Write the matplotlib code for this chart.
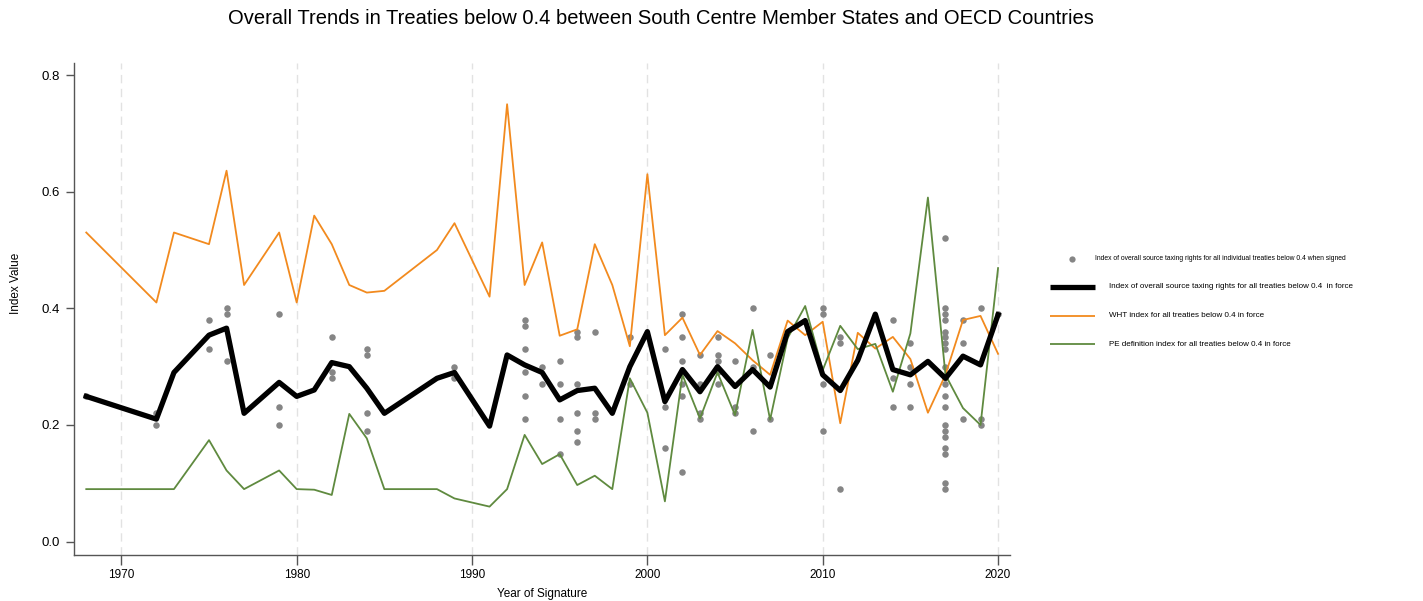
import numpy as np
import matplotlib.pyplot as plt
from matplotlib.lines import Line2D

plt.rcParams['font.family'] = ['Liberation Sans', 'DejaVu Sans']

# Yearly index values for treaties in force
years = [1968, 1972, 1973, 1975, 1976, 1977, 1979, 1980, 1981, 1982, 1983, 1984, 1985,
         1988, 1989, 1991, 1992, 1993, 1994, 1995, 1996, 1997, 1998, 1999, 2000,
         2001, 2002, 2003, 2004, 2005, 2006, 2007, 2008, 2009, 2010, 2011, 2012,
         2013, 2014, 2015, 2016, 2017, 2018, 2019, 2020]
overall = [0.249, 0.210, 0.290, 0.354, 0.366, 0.220, 0.273, 0.249, 0.260, 0.307, 0.300, 0.263, 0.220,
           0.280, 0.290, 0.198, 0.320, 0.303, 0.290, 0.243, 0.259, 0.263, 0.220, 0.300, 0.360,
           0.240, 0.295, 0.257, 0.300, 0.266, 0.295, 0.265, 0.360, 0.379, 0.286, 0.259, 0.311,
           0.390, 0.295, 0.286, 0.309, 0.280, 0.318, 0.303, 0.389]
wht = [0.530, 0.410, 0.530, 0.510, 0.636, 0.440, 0.530, 0.410, 0.559, 0.510, 0.440, 0.427, 0.430,
       0.500, 0.546, 0.420, 0.750, 0.440, 0.513, 0.353, 0.364, 0.510, 0.440, 0.335, 0.630,
       0.354, 0.384, 0.320, 0.361, 0.340, 0.311, 0.286, 0.379, 0.354, 0.377, 0.203, 0.358,
       0.331, 0.351, 0.313, 0.221, 0.286, 0.380, 0.387, 0.322]
pe_def = [0.090, 0.090, 0.090, 0.174, 0.122, 0.090, 0.122, 0.090, 0.089, 0.080, 0.219, 0.177, 0.090,
          0.090, 0.074, 0.060, 0.090, 0.183, 0.133, 0.150, 0.097, 0.113, 0.090, 0.280, 0.221,
          0.069, 0.286, 0.211, 0.290, 0.217, 0.363, 0.209, 0.349, 0.404, 0.294, 0.370, 0.330,
          0.339, 0.257, 0.357, 0.590, 0.286, 0.229, 0.200, 0.469]

# Individual treaties (year signed, index when signed)
treaty_years = ([1968] + [1972] * 2 + [1975] * 2 + [1976] * 3 + [1979] * 3 + [1982] * 3 + [1984] * 4
                + [1989] * 2 + [1993] * 6 + [1994] * 2 + [1995] * 4 + [1996] * 6 + [1997] * 3
                + [1999] * 2 + [2001] * 3 + [2002] * 6 + [2003] * 4 + [2004] * 5 + [2005] * 3
                + [2006] * 3 + [2007] * 2 + [2010] * 4 + [2011] * 3 + [2014] * 3 + [2015] * 4
                + [2017] * 20 + [2018] * 3 + [2019] * 3 + [2020])
treaty_index = ([0.25, 0.22, 0.20, 0.38, 0.33, 0.40, 0.39, 0.31, 0.39, 0.23, 0.20,
                 0.35, 0.29, 0.28, 0.33, 0.32, 0.22, 0.19, 0.30, 0.28,
                 0.38, 0.37, 0.33, 0.29, 0.25, 0.21, 0.30, 0.27,
                 0.31, 0.27, 0.21, 0.15, 0.36, 0.35, 0.27, 0.22, 0.19, 0.17, 0.36, 0.22, 0.21,
                 0.35, 0.27, 0.33, 0.23, 0.16, 0.39, 0.35, 0.31, 0.27, 0.25, 0.12,
                 0.32, 0.27, 0.22, 0.21, 0.35, 0.32, 0.31, 0.29, 0.27, 0.31, 0.23, 0.22,
                 0.40, 0.30, 0.19, 0.32, 0.21, 0.40, 0.39, 0.27, 0.19, 0.35, 0.34, 0.09,
                 0.38, 0.28, 0.23, 0.34, 0.30, 0.27, 0.23,
                 0.52, 0.40, 0.39, 0.38, 0.36, 0.35, 0.34, 0.33, 0.30, 0.28, 0.27, 0.25, 0.23,
                 0.20, 0.19, 0.18, 0.16, 0.15, 0.10, 0.09,
                 0.38, 0.34, 0.21, 0.40, 0.21, 0.20, 0.39])

orange = '#f28a1e'
green = '#5f8a3f'
grey = '#858585'

W, H = 1423, 601
fig = plt.figure(figsize=(W / 100, H / 100), dpi=100)
ax = fig.add_axes([0.052, 0.0765, 0.658, 0.819])

ax.scatter(treaty_years, treaty_index, s=22, color=grey, linewidths=0, zorder=2)
ax.plot(years, wht, color=orange, lw=1.3, zorder=3)
ax.plot(years, pe_def, color=green, lw=1.3, zorder=3)
ax.plot(years, overall, color='black', lw=3.8, zorder=4)

ax.set_xlim(1967.3, 2020.7)
ax.set_ylim(-0.023, 0.821)
ax.set_xticks(range(1970, 2021, 10))
ax.set_yticks(np.arange(0, 0.81, 0.2))
ax.set_yticklabels([f'{v:.1f}' for v in np.arange(0, 0.81, 0.2)])
for xv in range(1970, 2021, 10):
    ax.axvline(xv, color='#e2e2e2', lw=1.0, ls=(0, (6, 4)), zorder=1)

for s in ('top', 'right'):
    ax.spines[s].set_visible(False)
for s in ('left', 'bottom'):
    ax.spines[s].set_color('#555555')
    ax.spines[s].set_linewidth(1.0)
ax.tick_params(axis='x', length=7, width=1.0, color='#555555', labelsize=8.5, pad=3)
ax.tick_params(axis='y', length=6, width=1.0, color='#555555', labelsize=9.5, pad=4)

ax.set_xlabel('Year of Signature', fontsize=8.5, labelpad=5)
fig.text(0.011, 1 - 283 / H, 'Index Value', rotation=90, fontsize=8.5,
         ha='center', va='center')
fig.text(0.4645, 0.97, 'Overall Trends in Treaties below 0.4 between South Centre Member States and OECD Countries',
         fontsize=14.5, ha='center', va='center')

# Legend drawn by hand in figure pixel positions
def fx(px):
    return px / W

def fy(py):
    return 1 - py / H

fig.add_artist(Line2D([fx(1072)], [fy(259)], marker='o', ls='none', color=grey,
                      markersize=4.5, markeredgewidth=0, transform=fig.transFigure))
fig.text(fx(1095), fy(258), 'Index of overall source taxing rights for all individual treaties below 0.4 when signed',
         fontsize=4.9, va='center', ha='left')

legend_lines = [
    ('black', 3.8, 'Index of overall source taxing rights for all treaties below 0.4  in force'),
    (orange, 1.3, 'WHT index for all treaties below 0.4 in force'),
    (green, 1.3, 'PE definition index for all treaties below 0.4 in force'),
]
for i, (c, lw, label) in enumerate(legend_lines):
    yy = 287 + i * 28.5
    fig.add_artist(Line2D([fx(1050), fx(1095)], [fy(yy), fy(yy)], color=c, lw=lw,
                          solid_capstyle='butt', transform=fig.transFigure))
    fig.text(fx(1109), fy(yy), label, fontsize=5.8, va='center', ha='left')

fig.savefig('out.png', dpi=100)
